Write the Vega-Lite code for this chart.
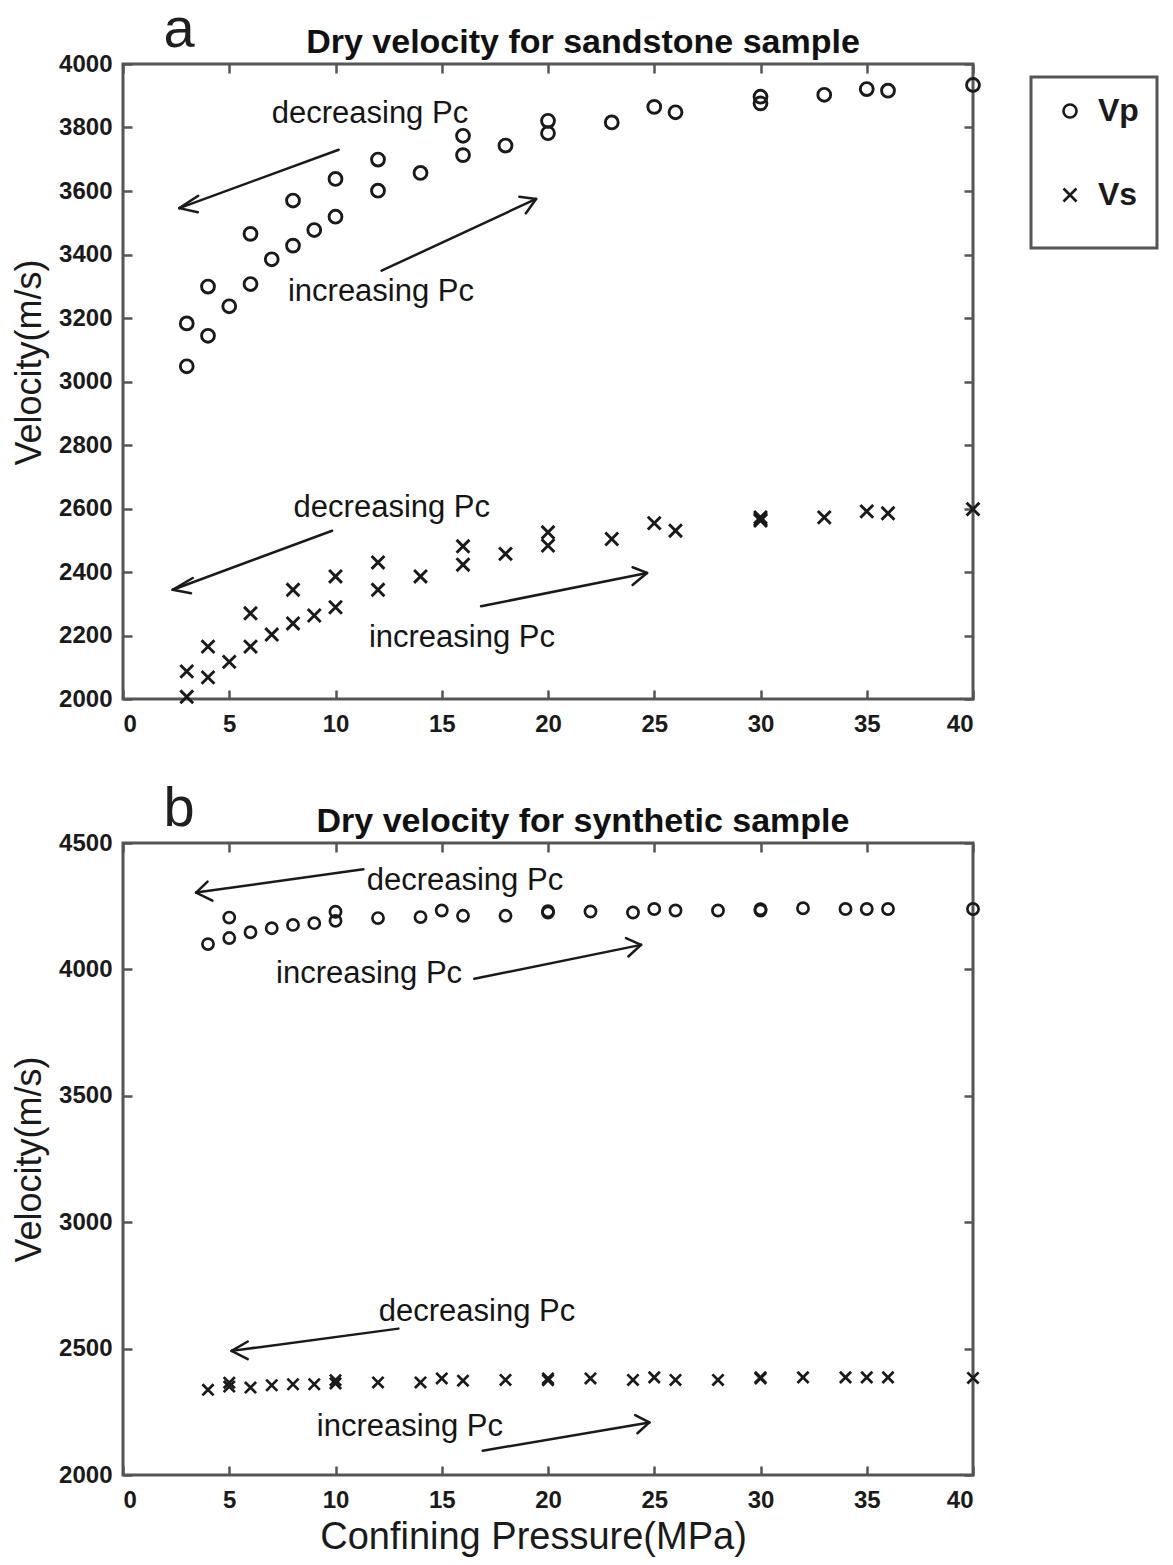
{
  "$schema": "https://vega.github.io/schema/vega-lite/v6.json",
  "padding": {"left": 10, "top": 0, "right": 0, "bottom": 0},
  "background": "white",
  "config": {
    "font": "Liberation Sans",
    "view": {"stroke": "#555555", "strokeWidth": 3},
    "axis": {"grid": false, "domain": false, "tickColor": "#555555", "tickWidth": 2.5, "tickSize": -9, "labelFont": "Liberation Sans", "labelFontSize": 24, "labelFontWeight": "bold", "labelColor": "#1a1a1a", "titleFont": "Liberation Sans", "titleFontWeight": "normal", "titleColor": "#1a1a1a", "format": "d"},
    "axisX": {"labelPadding": 22},
    "axisY": {"labelPadding": 20},
    "title": {"font": "Liberation Sans", "fontSize": 34, "fontWeight": "bold", "color": "#111111", "frame": "group", "anchor": "middle", "offset": -58, "dx": 35},
    "legend": {"strokeColor": "#555555", "strokeWidth": 3, "fillColor": "white", "padding": 18, "rowPadding": 52, "labelFont": "Liberation Sans", "labelFontSize": 32, "labelFontWeight": "bold", "labelColor": "#1a1a1a", "labelOffset": 12, "symbolOffset": 5, "symbolSize": 170, "symbolStrokeWidth": 2.6, "symbolStrokeColor": "#1a1a1a", "titleOrient": "bottom", "titleFontSize": 12, "titlePadding": 8}
  },
  "datasets": {
    "pts_a": [
      {"P":3,"V":3048,"type":"Vp"},{"P":3,"V":3183,"type":"Vp"},{"P":4,"V":3144,"type":"Vp"},{"P":4,"V":3299,"type":"Vp"},{"P":5,"V":3237,"type":"Vp"},{"P":6,"V":3307,"type":"Vp"},{"P":6,"V":3465,"type":"Vp"},{"P":7,"V":3385,"type":"Vp"},{"P":8,"V":3428,"type":"Vp"},{"P":8,"V":3570,"type":"Vp"},{"P":9,"V":3477,"type":"Vp"},{"P":10,"V":3519,"type":"Vp"},{"P":10,"V":3638,"type":"Vp"},{"P":12,"V":3601,"type":"Vp"},{"P":12,"V":3699,"type":"Vp"},{"P":14,"V":3657,"type":"Vp"},{"P":16,"V":3713,"type":"Vp"},{"P":16,"V":3774,"type":"Vp"},{"P":18,"V":3743,"type":"Vp"},{"P":20,"V":3782,"type":"Vp"},{"P":20,"V":3821,"type":"Vp"},{"P":23,"V":3816,"type":"Vp"},{"P":25,"V":3865,"type":"Vp"},{"P":26,"V":3848,"type":"Vp"},{"P":30,"V":3876,"type":"Vp"},{"P":30,"V":3897,"type":"Vp"},{"P":33,"V":3903,"type":"Vp"},{"P":35,"V":3921,"type":"Vp"},{"P":36,"V":3916,"type":"Vp"},{"P":40,"V":3934,"type":"Vp"},
      {"P":3,"V":2007,"type":"Vs"},{"P":3,"V":2087,"type":"Vs"},{"P":4,"V":2068,"type":"Vs"},{"P":4,"V":2165,"type":"Vs"},{"P":5,"V":2117,"type":"Vs"},{"P":6,"V":2165,"type":"Vs"},{"P":6,"V":2270,"type":"Vs"},{"P":7,"V":2203,"type":"Vs"},{"P":8,"V":2238,"type":"Vs"},{"P":8,"V":2344,"type":"Vs"},{"P":9,"V":2263,"type":"Vs"},{"P":10,"V":2289,"type":"Vs"},{"P":10,"V":2386,"type":"Vs"},{"P":12,"V":2344,"type":"Vs"},{"P":12,"V":2430,"type":"Vs"},{"P":14,"V":2386,"type":"Vs"},{"P":16,"V":2423,"type":"Vs"},{"P":16,"V":2481,"type":"Vs"},{"P":18,"V":2457,"type":"Vs"},{"P":20,"V":2483,"type":"Vs"},{"P":20,"V":2525,"type":"Vs"},{"P":23,"V":2504,"type":"Vs"},{"P":25,"V":2554,"type":"Vs"},{"P":26,"V":2530,"type":"Vs"},{"P":30,"V":2562,"type":"Vs"},{"P":30,"V":2572,"type":"Vs"},{"P":30,"V":2566,"type":"Vs"},{"P":33,"V":2572,"type":"Vs"},{"P":35,"V":2591,"type":"Vs"},{"P":36,"V":2585,"type":"Vs"},{"P":40,"V":2598,"type":"Vs"}
    ],
    "pts_b": [
      {"P":4,"V":4100,"type":"Vp"},{"P":5,"V":4124,"type":"Vp"},{"P":5,"V":4205,"type":"Vp"},{"P":6,"V":4147,"type":"Vp"},{"P":7,"V":4163,"type":"Vp"},{"P":8,"V":4176,"type":"Vp"},{"P":9,"V":4183,"type":"Vp"},{"P":10,"V":4192,"type":"Vp"},{"P":10,"V":4228,"type":"Vp"},{"P":12,"V":4203,"type":"Vp"},{"P":14,"V":4207,"type":"Vp"},{"P":15,"V":4233,"type":"Vp"},{"P":16,"V":4212,"type":"Vp"},{"P":18,"V":4212,"type":"Vp"},{"P":20,"V":4230,"type":"Vp"},{"P":20,"V":4225,"type":"Vp"},{"P":22,"V":4229,"type":"Vp"},{"P":24,"V":4225,"type":"Vp"},{"P":25,"V":4239,"type":"Vp"},{"P":26,"V":4233,"type":"Vp"},{"P":28,"V":4233,"type":"Vp"},{"P":30,"V":4238,"type":"Vp"},{"P":30,"V":4233,"type":"Vp"},{"P":32,"V":4242,"type":"Vp"},{"P":34,"V":4239,"type":"Vp"},{"P":35,"V":4239,"type":"Vp"},{"P":36,"V":4239,"type":"Vp"},{"P":40,"V":4239,"type":"Vp"},
      {"P":4,"V":2337,"type":"Vs"},{"P":5,"V":2365,"type":"Vs"},{"P":5,"V":2350,"type":"Vs"},{"P":6,"V":2346,"type":"Vs"},{"P":7,"V":2355,"type":"Vs"},{"P":8,"V":2359,"type":"Vs"},{"P":9,"V":2359,"type":"Vs"},{"P":10,"V":2375,"type":"Vs"},{"P":10,"V":2362,"type":"Vs"},{"P":12,"V":2366,"type":"Vs"},{"P":14,"V":2366,"type":"Vs"},{"P":15,"V":2382,"type":"Vs"},{"P":16,"V":2373,"type":"Vs"},{"P":18,"V":2376,"type":"Vs"},{"P":20,"V":2382,"type":"Vs"},{"P":20,"V":2375,"type":"Vs"},{"P":22,"V":2382,"type":"Vs"},{"P":24,"V":2376,"type":"Vs"},{"P":25,"V":2386,"type":"Vs"},{"P":26,"V":2376,"type":"Vs"},{"P":28,"V":2376,"type":"Vs"},{"P":30,"V":2386,"type":"Vs"},{"P":30,"V":2382,"type":"Vs"},{"P":32,"V":2386,"type":"Vs"},{"P":34,"V":2386,"type":"Vs"},{"P":35,"V":2386,"type":"Vs"},{"P":36,"V":2386,"type":"Vs"},{"P":40,"V":2384,"type":"Vs"}
    ],
    "arrows_a": [
      {"x":10.15,"y":3730,"x2":2.65,"y2":3546},{"x":2.65,"y":3546,"x2":3.54,"y2":3585},{"x":2.65,"y":3546,"x2":3.52,"y2":3533},
      {"x":12.17,"y":3349,"x2":19.44,"y2":3575},{"x":19.44,"y":3575,"x2":18.65,"y2":3582},{"x":19.44,"y":3575,"x2":18.96,"y2":3530},
      {"x":9.84,"y":2530,"x2":2.34,"y2":2344},{"x":2.34,"y":2344,"x2":3.28,"y2":2381},{"x":2.34,"y":2344,"x2":3.2,"y2":2333},
      {"x":16.85,"y":2292,"x2":24.66,"y2":2397},{"x":24.66,"y":2397,"x2":23.98,"y2":2415},{"x":24.66,"y":2397,"x2":23.98,"y2":2359}
    ],
    "arrows_b": [
      {"x":11.31,"y":4396,"x2":3.44,"y2":4304},{"x":3.44,"y":4304,"x2":3.98,"y2":4347},{"x":3.44,"y":4304,"x2":4.21,"y2":4272},
      {"x":16.53,"y":3963,"x2":24.38,"y2":4097},{"x":24.38,"y":4097,"x2":23.67,"y2":4124},{"x":24.38,"y":4097,"x2":23.78,"y2":4051},
      {"x":12.96,"y":2579,"x2":5.11,"y2":2491},{"x":5.11,"y":2491,"x2":5.87,"y2":2528},{"x":5.11,"y":2491,"x2":5.87,"y2":2458},
      {"x":16.93,"y":2096,"x2":24.77,"y2":2208},{"x":24.77,"y":2208,"x2":24.1,"y2":2237},{"x":24.77,"y":2208,"x2":24.21,"y2":2165}
    ],
    "notes_a": [
      {"x":11.62,"y":3813,"label":"decreasing Pc"},{"x":12.14,"y":3254,"label":"increasing Pc"},{"x":12.65,"y":2572,"label":"decreasing Pc"},{"x":15.95,"y":2163,"label":"increasing Pc"}
    ],
    "notes_b": [
      {"x":16.09,"y":4314,"label":"decreasing Pc"},{"x":11.58,"y":3948,"label":"increasing Pc"},{"x":16.66,"y":2609,"label":"decreasing Pc"},{"x":13.5,"y":2155,"label":"increasing Pc"}
    ],
    "tag_a": [{"x":2.64,"y":4054,"label":"a"}],
    "tag_b": [{"x":2.64,"y":4567,"label":"b"}]
  },
  "spacing": 41,
  "resolve": {"scale": {"x": "independent", "y": "independent", "shape": "shared"}, "legend": {"shape": "shared"}},
  "vconcat": [
    {
      "width": 850,
      "height": 635,
      "title": {"text": "Dry velocity for sandstone sample"},
      "resolve": {"axis": {"x": "independent", "y": "independent"}},
      "layer": [
        {
          "data": {"name": "pts_a"},
          "mark": {"type": "point", "filled": false, "color": "#1a1a1a", "strokeWidth": 2.9, "size": 165, "opacity": 1, "clip": false},
          "encoding": {
            "x": {"field": "P", "type": "quantitative", "scale": {"domain": [0, 40], "nice": false, "zero": false}, "axis": {"orient": "bottom", "values": [0,5,10,15,20,25,30,35,40], "title": null}},
            "y": {"field": "V", "type": "quantitative", "scale": {"domain": [2000, 4000], "nice": false, "zero": false}, "axis": {"orient": "left", "values": [2000,2200,2400,2600,2800,3000,3200,3400,3600,3800,4000], "title": "Velocity(m/s)", "titleFontSize": 36, "titlePadding": 10, "titleY": 298}},
            "shape": {"field": "type", "type": "nominal", "scale": {"domain": ["Vp", "Vs"], "range": ["circle", "M-1,-1L1,1M-1,1L1,-1"]}, "legend": {"title": "                              ", "orient": "none", "legendX": 908, "legendY": 13}}
          }
        },
        {
          "data": {"name": "pts_a"},
          "mark": {"type": "point", "opacity": 0},
          "encoding": {
            "x": {"field": "P", "type": "quantitative", "axis": {"orient": "top", "values": [0,5,10,15,20,25,30,35,40], "labels": false, "title": null}},
            "y": {"field": "V", "type": "quantitative", "axis": {"orient": "right", "values": [2000,2200,2400,2600,2800,3000,3200,3400,3600,3800,4000], "labels": false, "title": null}}
          }
        },
        {
          "data": {"name": "arrows_a"},
          "mark": {"type": "rule", "color": "#1a1a1a", "strokeWidth": 2.5, "strokeCap": "round", "clip": false},
          "encoding": {
            "x": {"field": "x", "type": "quantitative", "axis": null},
            "y": {"field": "y", "type": "quantitative", "axis": null},
            "x2": {"field": "x2"},
            "y2": {"field": "y2"}
          }
        },
        {
          "data": {"name": "notes_a"},
          "mark": {"type": "text", "font": "Liberation Sans", "fontSize": 31, "color": "#151515", "align": "center", "baseline": "alphabetic", "clip": false},
          "encoding": {
            "x": {"field": "x", "type": "quantitative", "axis": null},
            "y": {"field": "y", "type": "quantitative", "axis": null},
            "text": {"field": "label"}
          }
        },
        {
          "data": {"name": "tag_a"},
          "mark": {"type": "text", "font": "Liberation Sans", "fontSize": 56, "color": "#1f1f1f", "align": "center", "baseline": "alphabetic", "clip": false},
          "encoding": {
            "x": {"field": "x", "type": "quantitative", "axis": null},
            "y": {"field": "y", "type": "quantitative", "axis": null},
            "text": {"field": "label"}
          }
        }
      ]
    },
    {
      "width": 850,
      "height": 632,
      "title": {"text": "Dry velocity for synthetic sample"},
      "resolve": {"axis": {"x": "independent", "y": "independent"}},
      "layer": [
        {
          "data": {"name": "pts_b"},
          "mark": {"type": "point", "filled": false, "color": "#1a1a1a", "strokeWidth": 2.7, "size": 125, "opacity": 1, "clip": false},
          "encoding": {
            "x": {"field": "P", "type": "quantitative", "scale": {"domain": [0, 40], "nice": false, "zero": false}, "axis": {"orient": "bottom", "values": [0,5,10,15,20,25,30,35,40], "title": "Confining Pressure(MPa)", "titleFontSize": 38, "titlePadding": 6, "titleX": 410}},
            "y": {"field": "V", "type": "quantitative", "scale": {"domain": [2000, 4500], "nice": false, "zero": false}, "axis": {"orient": "left", "values": [2000,2500,3000,3500,4000,4500], "title": "Velocity(m/s)", "titleFontSize": 36, "titlePadding": 10}},
            "shape": {"field": "type", "type": "nominal", "scale": {"domain": ["Vp", "Vs"], "range": ["circle", "M-1,-1L1,1M-1,1L1,-1"]}, "legend": {"title": "                              ", "orient": "none", "legendX": 908, "legendY": 13}}
          }
        },
        {
          "data": {"name": "pts_b"},
          "mark": {"type": "point", "opacity": 0},
          "encoding": {
            "x": {"field": "P", "type": "quantitative", "axis": {"orient": "top", "values": [0,5,10,15,20,25,30,35,40], "labels": false, "title": null}},
            "y": {"field": "V", "type": "quantitative", "axis": {"orient": "right", "values": [2000,2500,3000,3500,4000,4500], "labels": false, "title": null}}
          }
        },
        {
          "data": {"name": "arrows_b"},
          "mark": {"type": "rule", "color": "#1a1a1a", "strokeWidth": 2.5, "strokeCap": "round", "clip": false},
          "encoding": {
            "x": {"field": "x", "type": "quantitative", "axis": null},
            "y": {"field": "y", "type": "quantitative", "axis": null},
            "x2": {"field": "x2"},
            "y2": {"field": "y2"}
          }
        },
        {
          "data": {"name": "notes_b"},
          "mark": {"type": "text", "font": "Liberation Sans", "fontSize": 31, "color": "#151515", "align": "center", "baseline": "alphabetic", "clip": false},
          "encoding": {
            "x": {"field": "x", "type": "quantitative", "axis": null},
            "y": {"field": "y", "type": "quantitative", "axis": null},
            "text": {"field": "label"}
          }
        },
        {
          "data": {"name": "tag_b"},
          "mark": {"type": "text", "font": "Liberation Sans", "fontSize": 56, "color": "#1f1f1f", "align": "center", "baseline": "alphabetic", "clip": false},
          "encoding": {
            "x": {"field": "x", "type": "quantitative", "axis": null},
            "y": {"field": "y", "type": "quantitative", "axis": null},
            "text": {"field": "label"}
          }
        }
      ]
    }
  ]
}
